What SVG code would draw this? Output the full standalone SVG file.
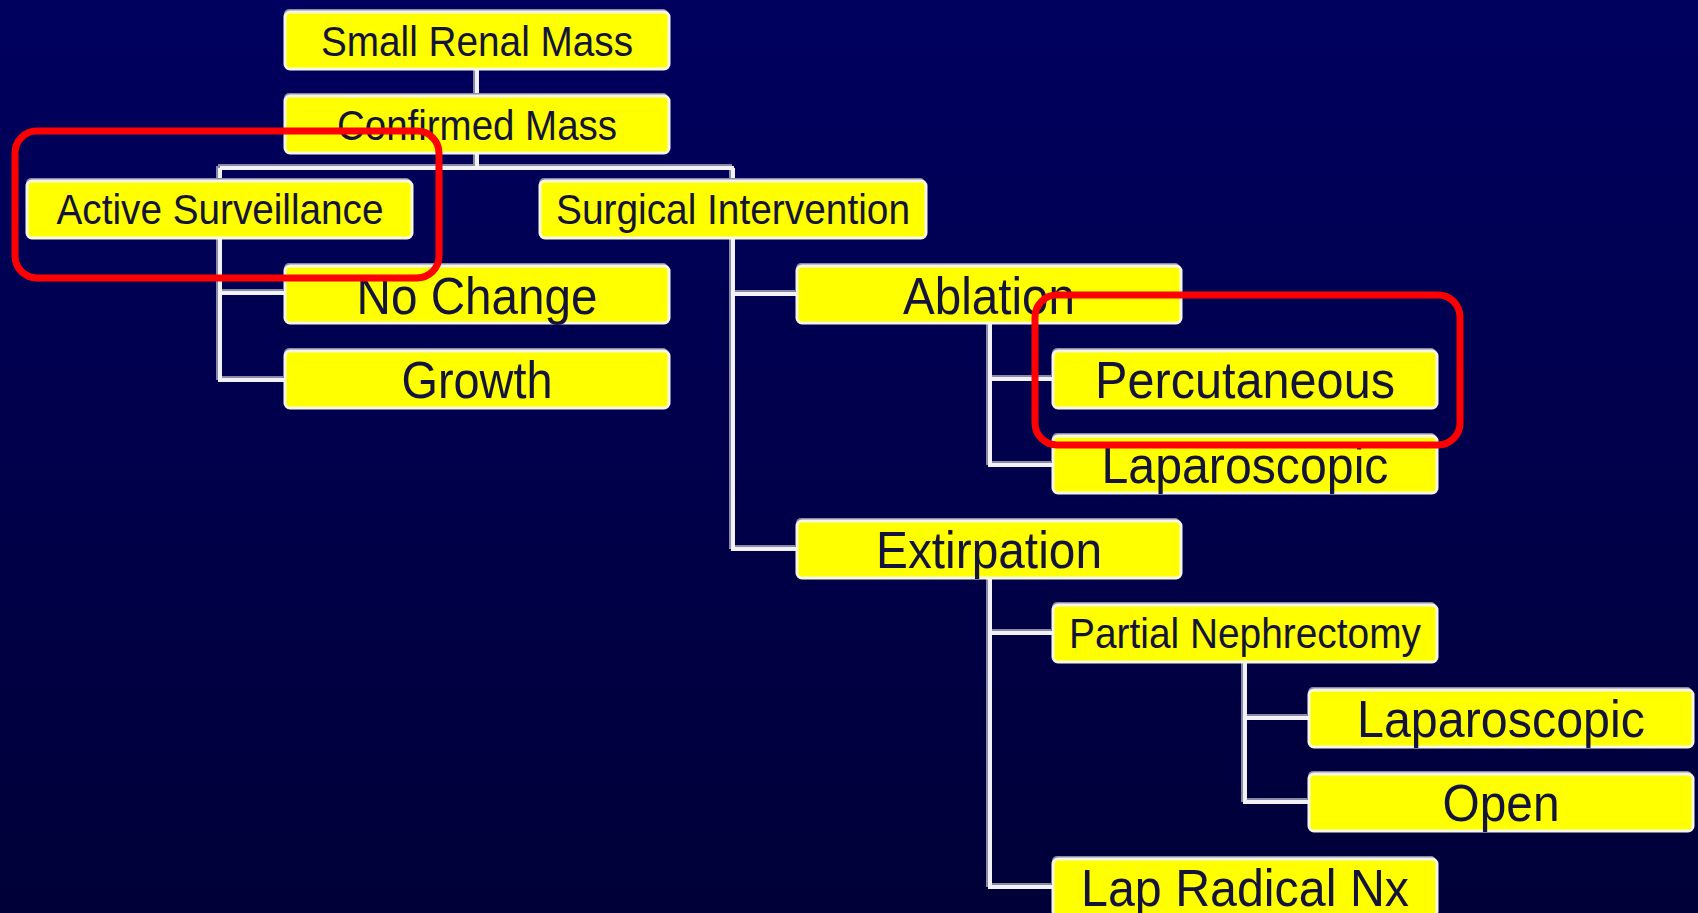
<svg xmlns="http://www.w3.org/2000/svg" width="1698" height="913" viewBox="0 0 1698 913">
<defs>
<linearGradient id="bg" x1="0" y1="0" x2="0" y2="1">
<stop offset="0" stop-color="#00005f"/>
<stop offset="1" stop-color="#000038"/>
</linearGradient>
<style>
.box{fill:#ffff00;stroke:#f6f6e6;stroke-width:3}
.sh{fill:#8a8aa6}
.t{font-family:"Liberation Sans",Arial,sans-serif;fill:#14143a;text-anchor:middle}
.s{font-size:42px}
.l{font-size:52px}
.ln{fill:none;stroke:#f2f2f6;stroke-width:4}
.lns{fill:none;stroke:#8a8aa6;stroke-width:4}
.hl{fill:none;stroke:#ff0000;stroke-width:7}
</style>
</defs>
<rect width="1698" height="913" fill="url(#bg)"/>
<g id="connectors">
<g transform="translate(-2,-2)">
<path class="lns" d="M477 68V96 M477 154V168 M220 168H734 M220 168V181 M733 168V181 M220 238V380H285 M220 293H285 M733 238V549H797 M733 294H797 M990 323V465H1053 M990 379H1053 M990 578V887H1053 M990 633H1053 M1245 662V802H1309 M1245 718H1309"/>
</g>
<path class="ln" d="M477 68V96 M477 154V168 M220 168H734 M220 168V181 M733 168V181 M220 238V380H285 M220 293H285 M733 238V549H797 M733 294H797 M990 323V465H1053 M990 379H1053 M990 578V887H1053 M990 633H1053 M1245 662V802H1309 M1245 718H1309"/>
</g>
<g id="n-small-renal-mass"><rect class="sh" x="284" y="9" width="384" height="57" rx="5"/><rect class="box" x="285" y="12" width="384" height="57" rx="5"/><text class="t s" x="477" y="56" textLength="312" lengthAdjust="spacingAndGlyphs">Small Renal Mass</text></g>
<g id="n-confirmed-mass"><rect class="sh" x="284" y="93" width="384" height="57" rx="5"/><rect class="box" x="285" y="96" width="384" height="57" rx="5"/><text class="t s" x="477" y="140" textLength="280" lengthAdjust="spacingAndGlyphs">Confirmed Mass</text></g>
<g id="n-active-surveillance"><rect class="sh" x="26" y="178" width="385" height="57" rx="5"/><rect class="box" x="27" y="181" width="385" height="57" rx="5"/><text class="t s" x="220" y="224" textLength="327" lengthAdjust="spacingAndGlyphs">Active Surveillance</text></g>
<g id="n-surgical-intervention"><rect class="sh" x="539" y="178" width="386" height="57" rx="5"/><rect class="box" x="540" y="181" width="386" height="57" rx="5"/><text class="t s" x="733" y="224" textLength="354" lengthAdjust="spacingAndGlyphs">Surgical Intervention</text></g>
<g id="n-no-change"><rect class="sh" x="284" y="263" width="384" height="57" rx="5"/><rect class="box" x="285" y="266" width="384" height="57" rx="5"/><text class="t l" x="477" y="314" textLength="241" lengthAdjust="spacingAndGlyphs">No Change</text></g>
<g id="n-growth"><rect class="sh" x="284" y="348" width="384" height="57" rx="5"/><rect class="box" x="285" y="351" width="384" height="57" rx="5"/><text class="t l" x="477" y="398" textLength="151" lengthAdjust="spacingAndGlyphs">Growth</text></g>
<g id="n-ablation"><rect class="sh" x="796" y="263" width="384" height="57" rx="5"/><rect class="box" x="797" y="266" width="384" height="57" rx="5"/><text class="t l" x="989" y="314" textLength="172" lengthAdjust="spacingAndGlyphs">Ablation</text></g>
<g id="n-percutaneous"><rect class="sh" x="1052" y="348" width="384" height="57" rx="5"/><rect class="box" x="1053" y="351" width="384" height="57" rx="5"/><text class="t l" x="1245" y="398" textLength="300" lengthAdjust="spacingAndGlyphs">Percutaneous</text></g>
<g id="n-laparoscopic-ablation"><rect class="sh" x="1052" y="433" width="384" height="57" rx="5"/><rect class="box" x="1053" y="436" width="384" height="57" rx="5"/><text class="t l" x="1245" y="483" textLength="287" lengthAdjust="spacingAndGlyphs">Laparoscopic</text></g>
<g id="n-extirpation"><rect class="sh" x="796" y="518" width="384" height="57" rx="5"/><rect class="box" x="797" y="521" width="384" height="57" rx="5"/><text class="t l" x="989" y="568" textLength="226" lengthAdjust="spacingAndGlyphs">Extirpation</text></g>
<g id="n-partial-nephrectomy"><rect class="sh" x="1052" y="602" width="384" height="57" rx="5"/><rect class="box" x="1053" y="605" width="384" height="57" rx="5"/><text class="t s" x="1245" y="648" textLength="352" lengthAdjust="spacingAndGlyphs">Partial Nephrectomy</text></g>
<g id="n-laparoscopic-pn"><rect class="sh" x="1308" y="687" width="384" height="57" rx="5"/><rect class="box" x="1309" y="690" width="384" height="57" rx="5"/><text class="t l" x="1501" y="737" textLength="288" lengthAdjust="spacingAndGlyphs">Laparoscopic</text></g>
<g id="n-open"><rect class="sh" x="1308" y="771" width="384" height="57" rx="5"/><rect class="box" x="1309" y="774" width="384" height="57" rx="5"/><text class="t l" x="1501" y="821" textLength="117" lengthAdjust="spacingAndGlyphs">Open</text></g>
<g id="n-lap-radical-nx"><rect class="sh" x="1052" y="856" width="384" height="57" rx="5"/><rect class="box" x="1053" y="859" width="384" height="57" rx="5"/><text class="t l" x="1245" y="906" textLength="328" lengthAdjust="spacingAndGlyphs">Lap Radical Nx</text></g>
<g id="highlights">
<rect class="hl" x="15" y="131" width="424" height="147" rx="22"/>
<rect class="hl" x="1035" y="295" width="425" height="150" rx="22"/>
</g>
</svg>
